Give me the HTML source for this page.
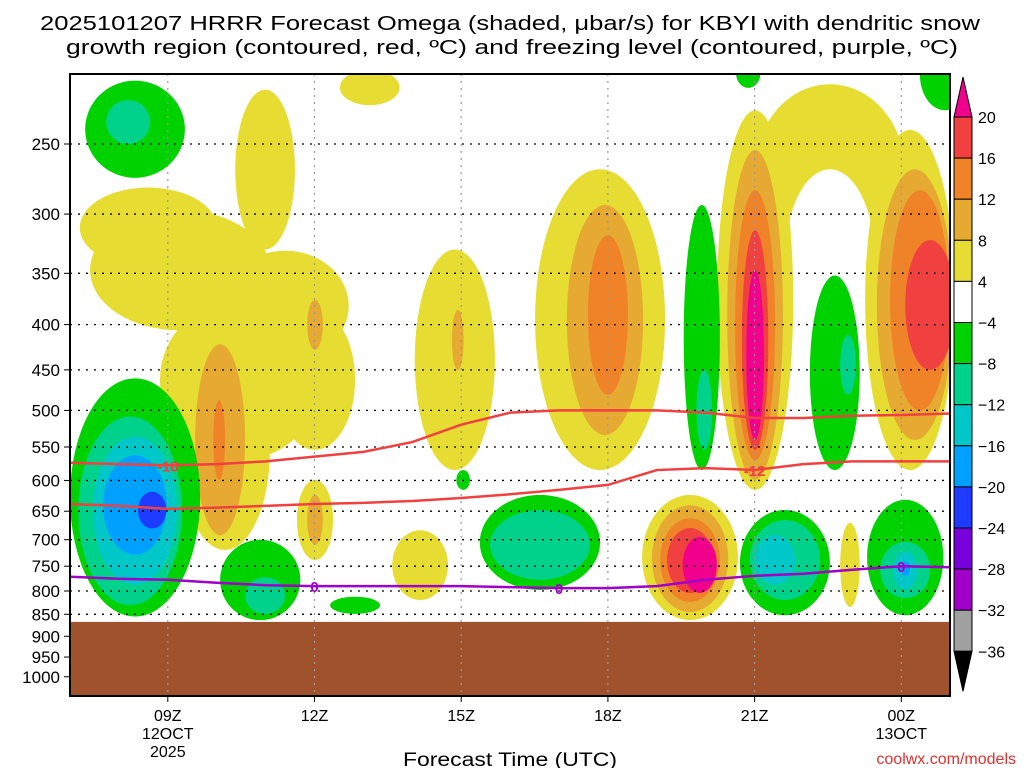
<!DOCTYPE html>
<html><head><meta charset="utf-8">
<style>
body{margin:0;background:#fff;}
svg text{font-family:"Liberation Sans",sans-serif;}
</style></head>
<body>
<svg id="chart" width="1024" height="768" viewBox="0 0 1024 768" xmlns="http://www.w3.org/2000/svg">
<rect width="1024" height="768" fill="#fff"/>
<text x="510" y="30" font-size="20" text-anchor="middle" fill="#000" textLength="940" lengthAdjust="spacingAndGlyphs">2025101207 HRRR Forecast Omega (shaded, μbar/s) for KBYI with dendritic snow</text>
<text x="512" y="54" font-size="20" text-anchor="middle" fill="#000" textLength="892" lengthAdjust="spacingAndGlyphs">growth region (contoured, red, ºC) and freezing level (contoured, purple, ºC)</text>
<defs><clipPath id="plotclip"><rect x="70" y="74" width="880" height="622"/></clipPath></defs>
<g id="fields" clip-path="url(#plotclip)"></g>
<g id="grid"></g>
<g id="lines" clip-path="url(#plotclip)"></g>
<g id="axes"></g>
<g id="cbar"></g>
<text x="510" y="766" font-size="19" text-anchor="middle" textLength="214" lengthAdjust="spacingAndGlyphs">Forecast Time (UTC)</text>
<text x="1016" y="764" font-size="16" text-anchor="end" fill="#e03030">coolwx.com/models</text>
</svg>
<script>
// ---- data ----
const pressureTicks=[250,300,350,400,450,500,550,600,650,700,750,800,850,900,950,1000];
const timeTicks=[9,12,15,18,21,24];
const timeLabels=["09Z","12Z","15Z","18Z","21Z","00Z"];
const dateLabels={9:["12OCT","2025"],24:["13OCT",""]};
const levelColors={"-5":"#1e3cff","-4":"#00a0ff","-3":"#00c8c8","-2":"#00d28c","-1":"#00d200","0":"#ffffff","1":"#e6dc32","2":"#e6aa32","3":"#f08228","4":"#f04040","5":"#f0008c"};
// features: [hourCenter, halfWidthHours, pTop, pBottom, level]
const features=[
[8.33,1.02,212,273,-1],[8.19,0.45,223,250,-2],
[9.25,1.84,297,406,1],[10.48,1.64,375,569,1],[10.99,0.61,217,329,1],[12.01,0.82,385,554,1],[13.13,0.61,206,226,1],
[11.4,1.3,330,440,1],[8.6,1.4,280,345,1],
[10.17,0.92,427,719,1],[10.07,0.51,421,692,2],[10.05,0.12,487,599,3],[12.01,0.16,375,427,2],
[12.01,0.37,599,738,1],[12.01,0.16,623,709,2],[14.16,0.57,683,819,1],
[14.87,0.82,329,584,1],[14.93,0.12,385,450,2],
[17.84,1.33,267,584,1],[17.94,0.78,293,533,2],[18.0,0.41,317,480,3],
[22.54,1.53,214,335,1],[22.54,0.92,267,427,0],
[21.01,0.78,229,615,1],[21.01,0.57,254,599,2],[21.01,0.41,282,569,3],[21.01,0.27,313,554,4],[21.01,0.18,347,540,5],
[24.18,0.92,241,584,1],[24.28,0.78,267,540,2],[24.38,0.61,282,500,3],[24.59,0.51,321,450,4],
[19.68,0.98,623,863,1],[19.68,0.78,640,845,2],[19.68,0.61,662,823,3],[19.68,0.47,679,804,4],[19.88,0.35,695,804,5],
[22.95,0.2,670,834,1],
[8.33,1.33,460,855,-1],[8.23,1.06,508,830,-2],[8.33,0.86,535,787,-3],[8.33,0.65,562,728,-4],[8.68,0.29,618,680,-5],
[10.89,0.82,700,863,-1],[10.99,0.41,772,849,-2],[12.83,0.51,812,849,-1],[15.04,0.14,584,615,-1],
[16.61,1.23,623,798,-1],[16.61,1.02,648,777,-2],
[19.92,0.37,293,584,-1],[19.97,0.16,450,554,-2],
[21.62,0.92,648,852,-1],[21.62,0.72,665,819,-2],[21.42,0.41,692,787,-3],
[22.64,0.51,352,584,-1],[22.91,0.16,411,480,-2],
[24.08,0.78,631,852,-1],[24.08,0.51,704,815,-2],[24.08,0.25,722,796,-3],[24.08,0.1,741,769,-4],
[24.89,0.51,190,229,-1],[20.87,0.25,200,216,-1]
];
const lineHours=[7,8,9,10,11,12,13,14,15,16,17,18,19,20,21,22,23,24,25];
const isoMinus18=[573,575,577,575,571,564,557,543,519,503,500,500,500,503,510,510,507,506,504];
const isoMinus12=[638,641,646,644,641,638,636,633,628,622,615,607,584,581,584,575,571,571,571];
const freezing=[771,775,777,783,788,790,790,790,790,792,794,794,790,777,769,765,757,750,752];
const cbarLevels=[20,16,12,8,4,-4,-8,-12,-16,-20,-24,-28,-32,-36];
const cbarColors=["#f04040","#f08228","#e6aa32","#e6dc32","#ffffff","#00d200","#00d28c","#00c8c8","#00a0ff","#1e3cff","#7800dc","#a000c8","#a0a0a0"];

// ---- axes ----
const NS="http://www.w3.org/2000/svg";
const xS=h=>70+(h-7)*48.9;
const yS=p=>144+384.3*(Math.log(p)-Math.log(250));
function mk(tag,attrs,parent){const e=document.createElementNS(NS,tag);for(const k in attrs)e.setAttribute(k,attrs[k]);parent.appendChild(e);return e;}
const F=document.getElementById('fields'),G=document.getElementById('grid'),L=document.getElementById('lines'),A=document.getElementById('axes'),C=document.getElementById('cbar');

features.forEach(f=>{
  const y1=yS(f[2]),y2=yS(f[3]);
  const e=mk('ellipse',{cx:xS(f[0]),cy:(y1+y2)/2,rx:f[1]*48.9,ry:(y2-y1)/2,fill:levelColors[String(f[4])]},F);
  
  
});
const gnd=mk('rect',{x:70,y:yS(867),width:880,height:696-yS(867),fill:"#a0522d"},F);



pressureTicks.forEach(p=>{
  const y=yS(p);
  if(p<860){const l=mk('line',{x1:70,x2:950,y1:y,y2:y,stroke:"#000","stroke-width":1.3,"stroke-dasharray":"2 6"},G);
  
  }
  const t=mk('text',{x:60,y:y+6,"font-size":17,"text-anchor":"end"},A);t.textContent=p;
  
  
  mk('line',{x1:64,x2:70,y1:y,y2:y,stroke:"#000"},A);
});
timeTicks.forEach((h,i)=>{
  const x=xS(h);
  const l=mk('line',{x1:x,x2:x,y1:74,y2:696,stroke:"#999","stroke-width":1.2,"stroke-dasharray":"2 5"},G);
  
  
  mk('line',{x1:x,x2:x,y1:696,y2:702,stroke:"#000"},A);
  const t=mk('text',{x:x,y:721,"font-size":16,"text-anchor":"middle"},A);t.textContent=timeLabels[i];
  
  
  if(dateLabels[h]){dateLabels[h].forEach((s,j)=>{const d=mk('text',{x:x,y:739+j*18,"font-size":16,"text-anchor":"middle"},A);d.textContent=s;
  
  });}
});
const frame=mk('rect',{x:70,y:74,width:880,height:622,fill:"none",stroke:"#000","stroke-width":2},A);



function drawLine(vals,color,name,labels){
  const d=vals.map((p,i)=>(i?'L':'M')+xS(lineHours[i])+' '+yS(p)).join(' ');
  const pth=mk('path',{d:d,fill:"none",stroke:color,"stroke-width":2.5},L);
  
  
  labels.forEach(lb=>{
    const i=lineHours.indexOf(lb[0]);const x=xS(lb[0]),y=yS(vals[i]);
    const t=mk('text',{x:x,y:y+6,"font-size":15,"font-weight":"bold","text-anchor":"middle",fill:color},L);t.textContent=lb[1];
    
    
  });
}
drawLine(isoMinus18,"#f04040","isotherm-minus18",[[9,"-18"]]);
drawLine(isoMinus12,"#f04040","isotherm-minus12",[[21,"-12"]]);
drawLine(freezing,"#a000c8","freezing-level",[[12,"0"],[17,"0"],[24,"0"]]);

// colorbar
const cx=954,cw=18,top0=117,step=41.1;
cbarColors.forEach((c,i)=>{
  const r=mk('rect',{x:cx,y:top0+i*step,width:cw,height:step,fill:c,stroke:"#000","stroke-width":1},C);
  
  
});
const tt=mk('polygon',{points:`${cx},${top0} ${cx+cw},${top0} ${cx+cw/2},${top0-40}`,fill:"#f0008c",stroke:"#000"},C);


const yb=top0+cbarColors.length*step;
const bt=mk('polygon',{points:`${cx},${yb} ${cx+cw},${yb} ${cx+cw/2},${yb+40}`,fill:"#000",stroke:"#000"},C);


cbarLevels.forEach((v,i)=>{
  const t=mk('text',{x:978,y:top0+i*step+6,"font-size":16},C);t.textContent=v<0?'\u2212'+(-v):v;
  
  
});
</script>
</body></html>
